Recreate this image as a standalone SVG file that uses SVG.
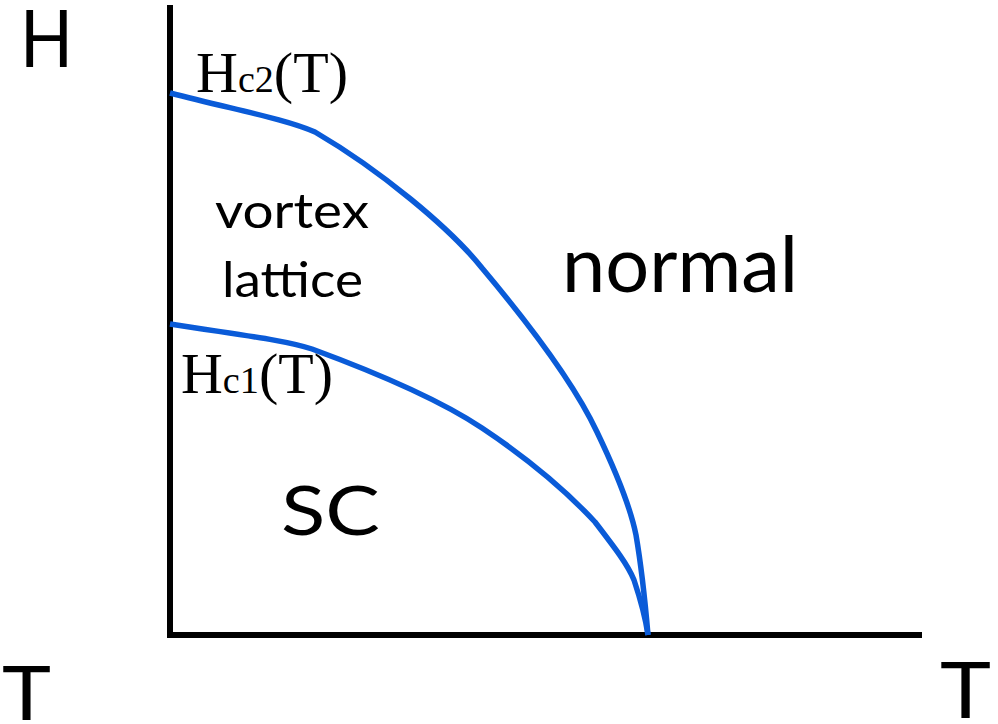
<svg xmlns="http://www.w3.org/2000/svg" width="998" height="724" viewBox="0 0 998 724">
<style>
.axis{stroke:#000;stroke-width:6;fill:none;stroke-linecap:butt}
.curve{stroke:#0a5bd8;stroke-width:5.5;fill:none;stroke-linejoin:round;stroke-linecap:butt}
.sans{font-family:Lato,"Liberation Sans",sans-serif;fill:#000}
.serif{font-family:"Liberation Serif","DejaVu Serif",serif;fill:#000}
</style>
<rect width="998" height="724" fill="#fff"/>
<g id="axes">
<line class="axis" x1="170" y1="5" x2="170" y2="638"/>
<line class="axis" x1="167" y1="635" x2="922" y2="635"/>
</g>
<g id="connectors">
<path id="hc2" class="curve" d="M170,93 C240,111 285,119 315,132 C380,170 450,228 482,268 C530,325 575,385 597,432 C620,480 632,515 636,535 C642,570 645,600 648,635"/>
<path id="hc1" class="curve" d="M170,324 C240,335 285,340 312,349 C380,374 440,400 482,428 C530,460 570,495 595,522 C615,548 628,565 634,580 C640,598 645,615 648,635"/>
</g>
<g id="label-H"><text class="sans" x="20" y="67" font-size="79" textLength="53" lengthAdjust="spacingAndGlyphs">H</text></g>
<g id="label-T-left"><text class="sans" x="2" y="720" font-size="76" textLength="49" lengthAdjust="spacingAndGlyphs">T</text></g>
<g id="label-T-right"><text class="sans" x="940" y="718" font-size="77" textLength="51" lengthAdjust="spacingAndGlyphs">T</text></g>
<g id="label-hc2"><text class="serif" x="196" y="92" font-size="58" textLength="152" lengthAdjust="spacingAndGlyphs">H<tspan font-size="38">c2</tspan>(T)</text></g>
<g id="label-hc1"><text class="serif" x="181" y="393" font-size="56" textLength="152" lengthAdjust="spacingAndGlyphs">H<tspan font-size="37">c1</tspan>(T)</text></g>
<g id="label-vortex"><text class="sans" x="215" y="228" font-size="48" textLength="154" lengthAdjust="spacingAndGlyphs">vortex</text></g>
<g id="label-lattice"><text class="sans" x="222" y="297" font-size="48" textLength="141" lengthAdjust="spacingAndGlyphs">lattice</text></g>
<g id="label-normal"><text class="sans" x="562" y="292" font-size="78" textLength="236" lengthAdjust="spacingAndGlyphs">normal</text></g>
<g id="label-SC"><text class="sans" x="281" y="535" font-size="67" textLength="99" lengthAdjust="spacingAndGlyphs">SC</text></g>
</svg>
